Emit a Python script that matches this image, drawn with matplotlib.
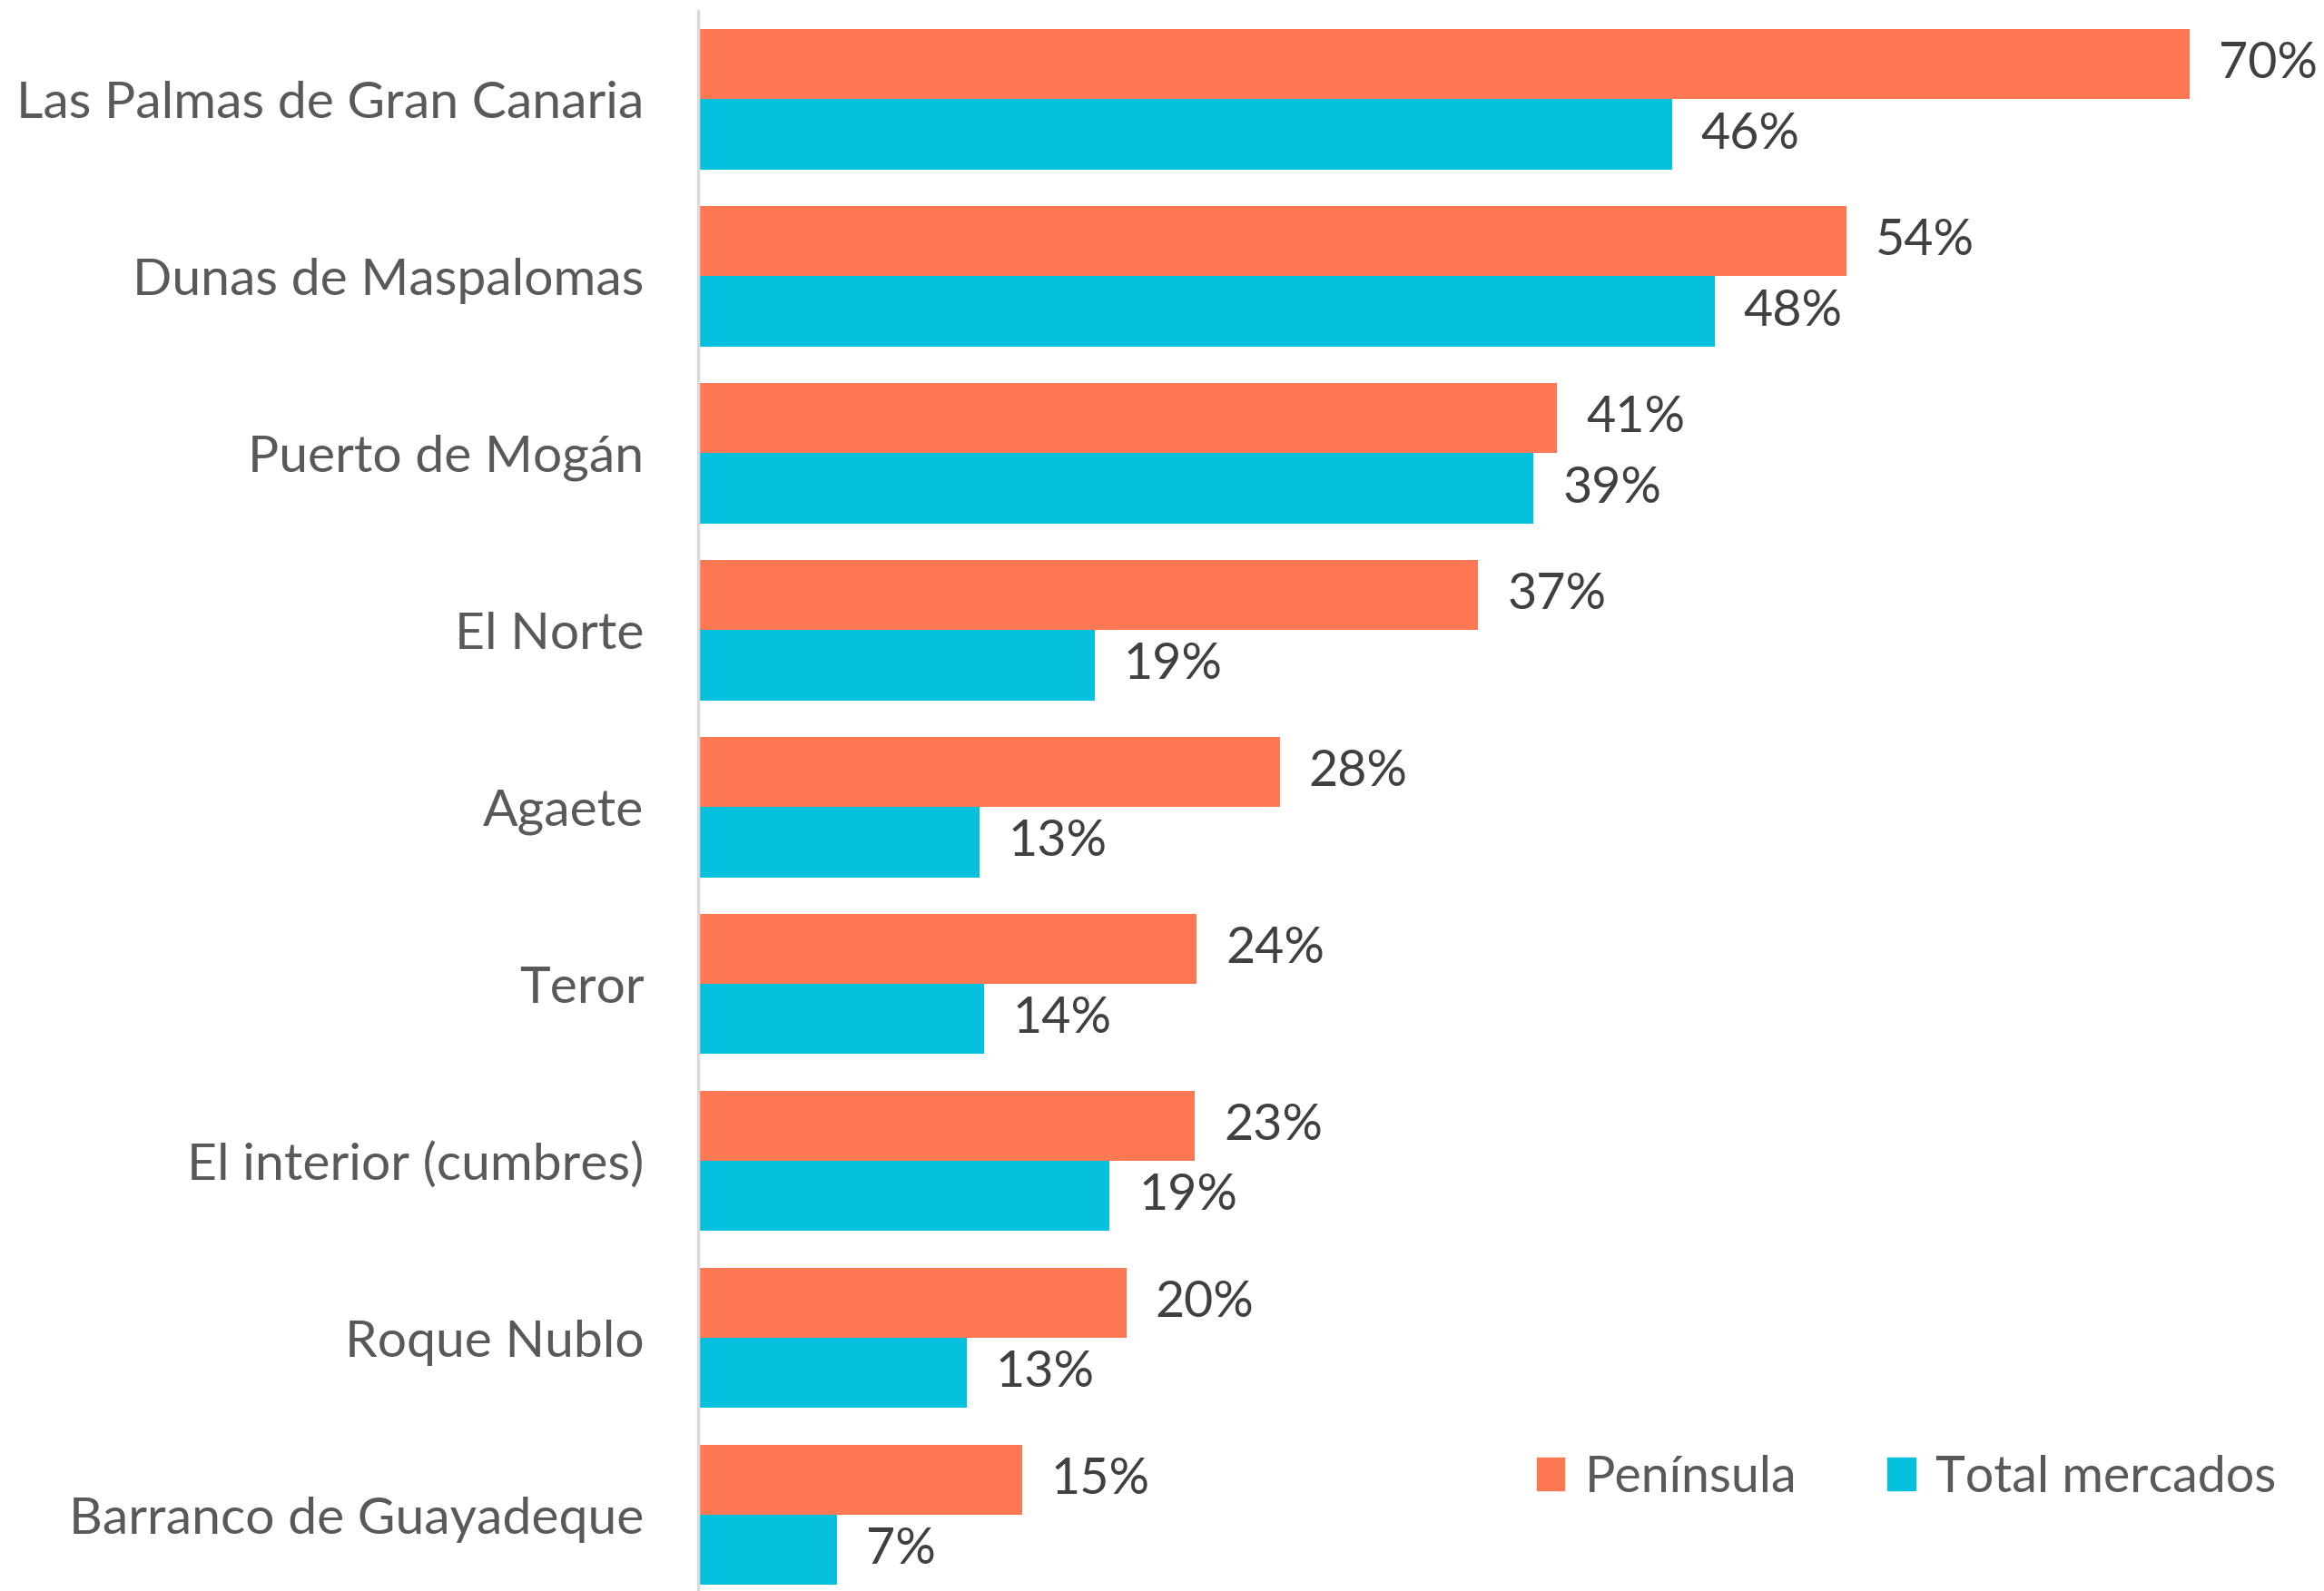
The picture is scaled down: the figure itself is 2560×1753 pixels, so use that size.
import numpy as np
import matplotlib
matplotlib.use("Agg")
import matplotlib.pyplot as plt
from matplotlib.patches import Patch

# datos (porcentaje que visita cada lugar)
lugares = ['Las Palmas de Gran Canaria', 'Dunas de Maspalomas', 'Puerto de Mogán',
           'El Norte', 'Agaete', 'Teror', 'El interior (cumbres)', 'Roque Nublo',
           'Barranco de Guayadeque']
peninsula = [70.0, 53.9, 40.3, 36.6, 27.3, 23.4, 23.3, 20.1, 15.2]
total_mercados = [45.7, 47.7, 39.2, 18.6, 13.2, 13.4, 19.3, 12.6, 6.5]
etiq_peninsula = ['70%', '54%', '41%', '37%', '28%', '24%', '23%', '20%', '15%']
etiq_total = ['46%', '48%', '39%', '19%', '13%', '14%', '19%', '13%', '7%']

col_pen = '#FF7854'
col_tot = '#05C1DE'
fuente = ['Lato', 'DejaVu Sans']

fig = plt.figure(figsize=(25.6, 17.53), dpi=100)
ax = fig.add_axes([0.3004, 0.0, 0.6996, 1 - 12 / 1753])

y = np.arange(len(lugares))
h = 0.396
b1 = ax.barh(y - h / 2, peninsula, height=h, color=col_pen)
b2 = ax.barh(y + h / 2, total_mercados, height=h, color=col_tot)

for rect, txt in zip(b1, etiq_peninsula):
    ax.annotate(txt, (rect.get_width(), rect.get_y() + rect.get_height() / 2),
                xytext=(32, 0), textcoords='offset pixels', va='center', ha='left',
                fontsize=40, color='#404040', family=fuente)
for rect, txt in zip(b2, etiq_total):
    ax.annotate(txt, (rect.get_width(), rect.get_y() + rect.get_height() / 2),
                xytext=(32, 0), textcoords='offset pixels', va='center', ha='left',
                fontsize=40, color='#404040', family=fuente)

ax.set_xlim(0, 76.3)
ax.set_ylim(8.43, -0.5)
ax.set_yticks(y)
ax.set_yticklabels(lugares, fontsize=41, color='#595959', family=fuente)
ax.tick_params(axis='y', length=0, pad=43)
ax.set_xticks([])
for s in ['top', 'right', 'bottom']:
    ax.spines[s].set_visible(False)
ax.spines['left'].set_color('#D9D9D9')
ax.spines['left'].set_linewidth(2.5)

handles = [Patch(color=col_pen, label='Península'),
           Patch(color=col_tot, label='Total mercados')]
fig.legend(handles=handles, loc='center', bbox_to_anchor=(2100 / 2560, 1 - 1628 / 1753),
           ncol=2, frameon=False, handlelength=0.55, handleheight=0.6, handletextpad=0.4,
           columnspacing=1.8, prop={'family': fuente, 'size': 40}, labelcolor='#595959')

fig.savefig('out.png', dpi=100)
